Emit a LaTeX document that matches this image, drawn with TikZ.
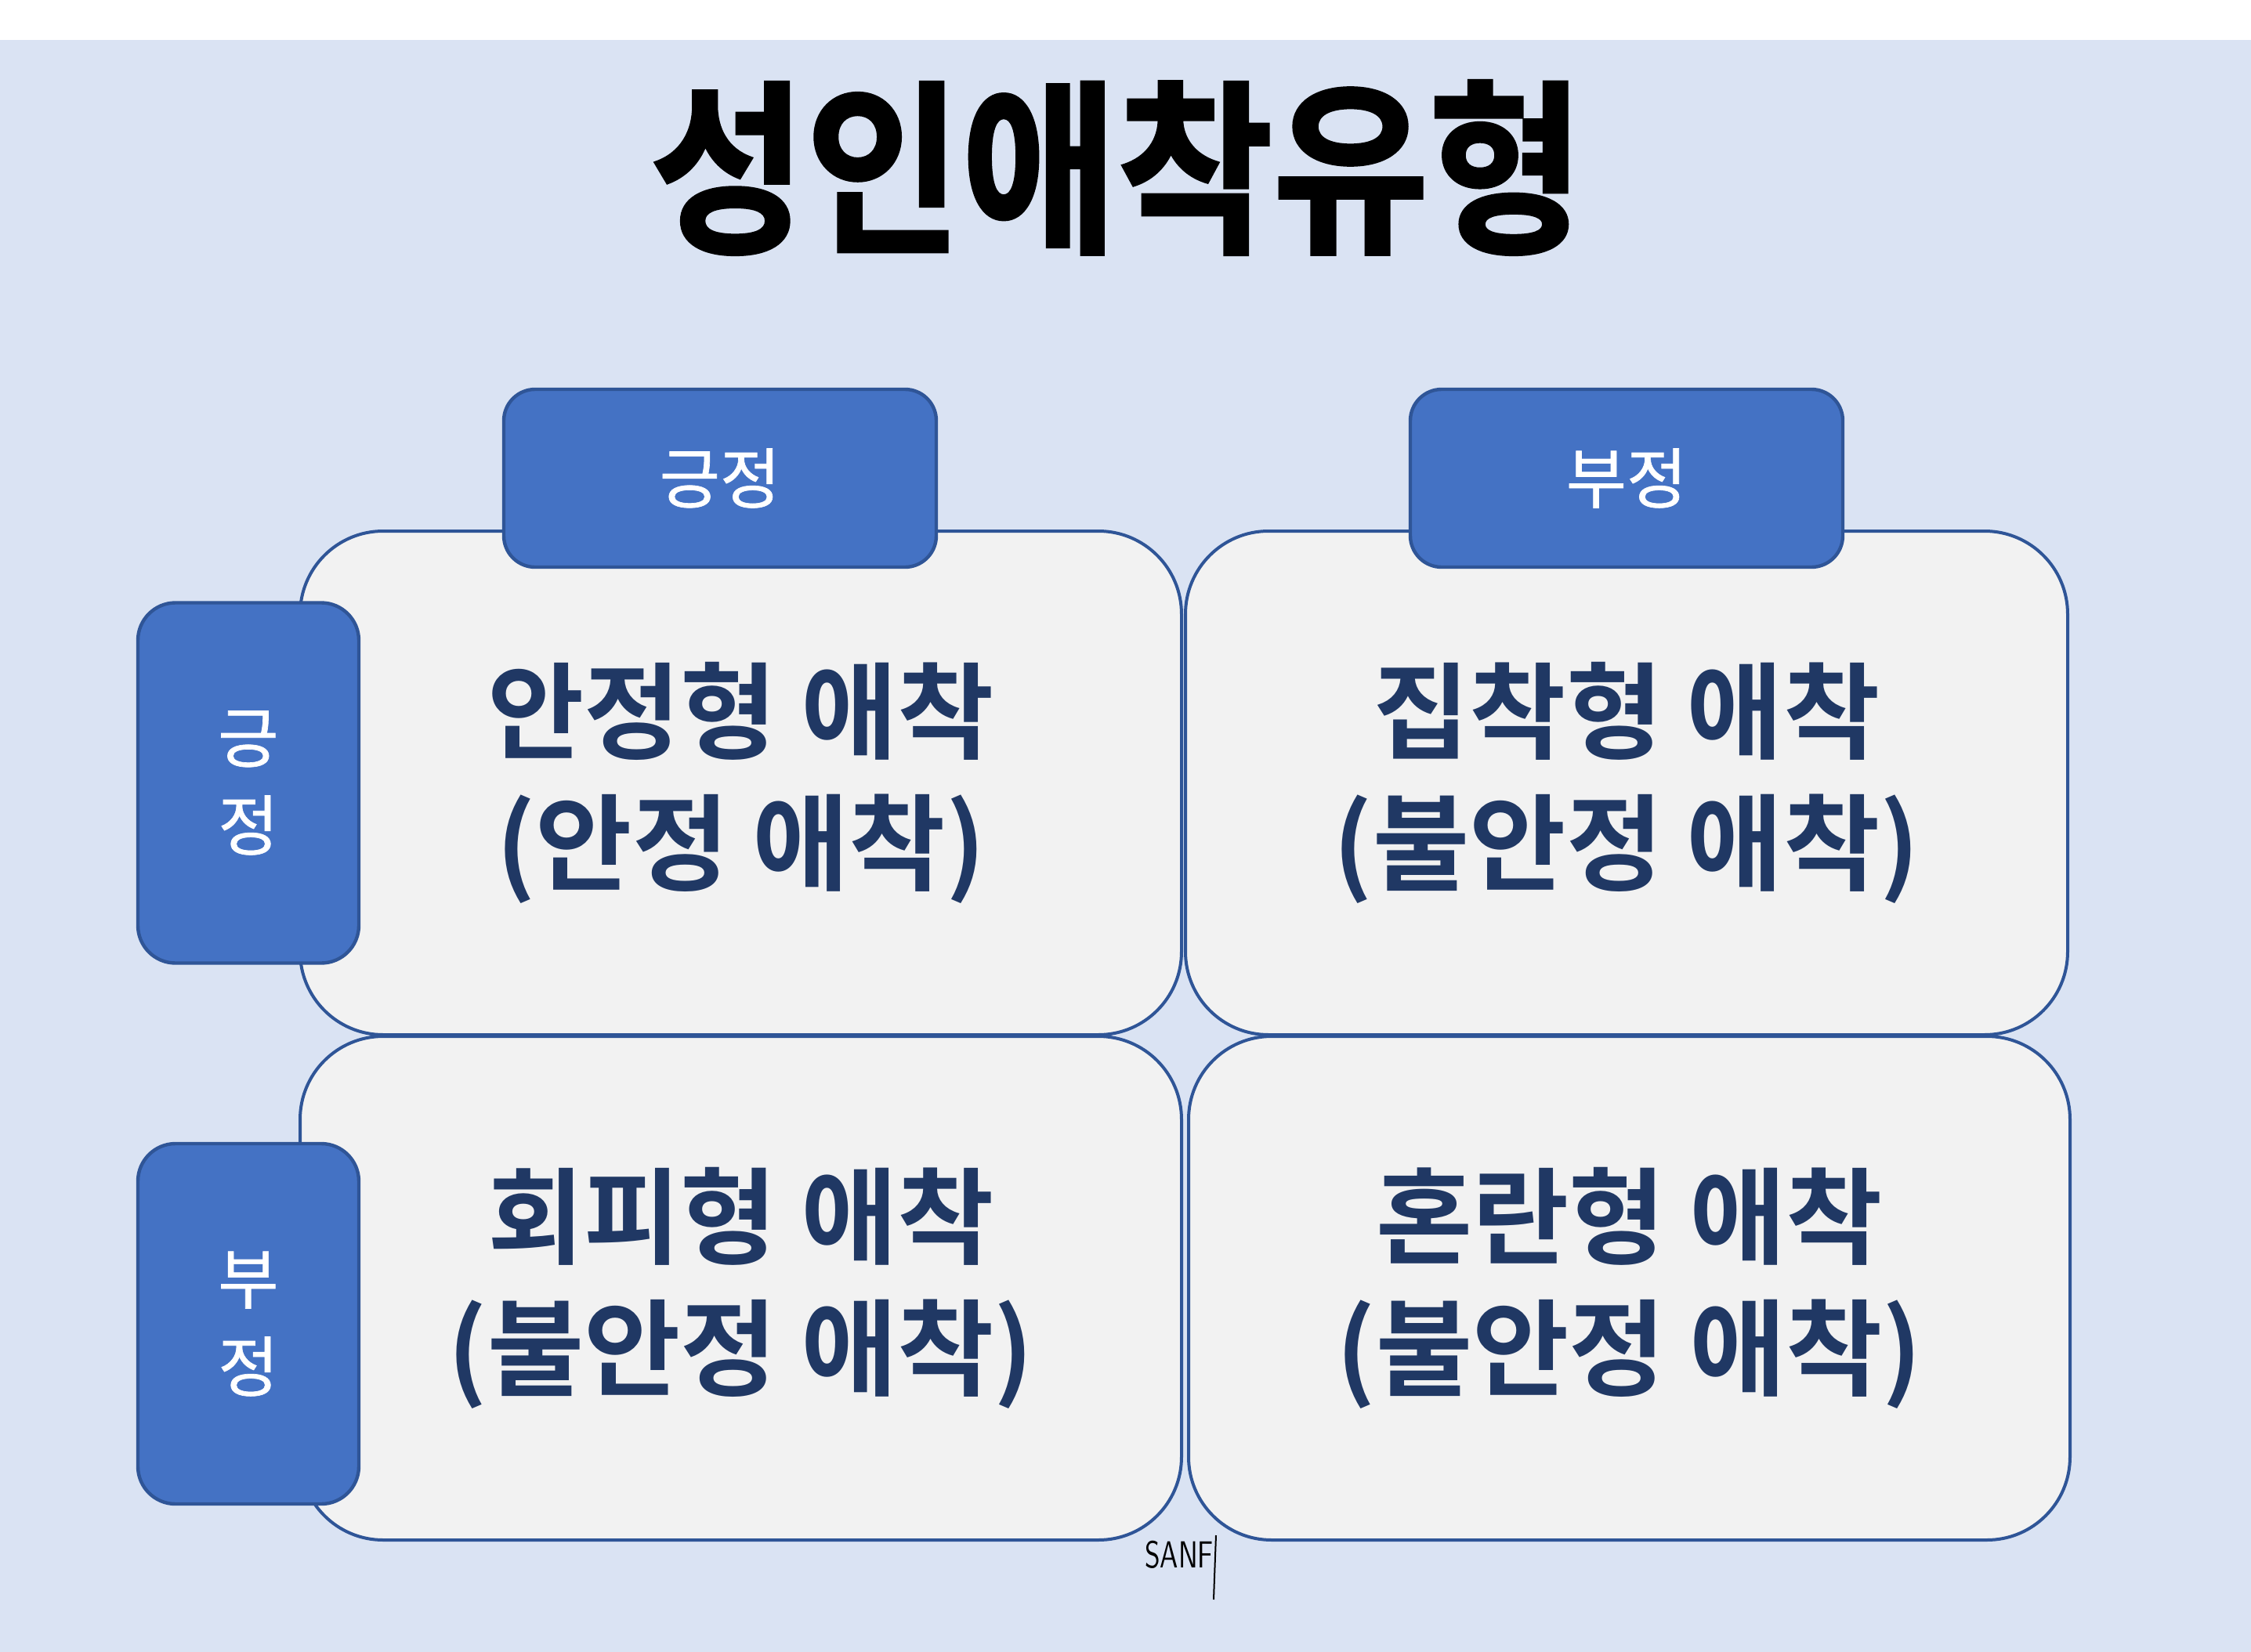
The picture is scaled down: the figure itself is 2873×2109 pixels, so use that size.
\documentclass[tikz,border=0pt]{standalone}
\usepackage{fontspec}
\setmainfont{Noto Sans CJK KR}
\newfontfamily\krfont[FakeBold=0.8]{Noto Sans CJK KR}
\newfontfamily\krheavy[FakeBold=1.8]{Noto Sans CJK KR Bold}
\newfontfamily\krbold{Noto Sans CJK KR Bold}
\definecolor{bgblue}{HTML}{DAE3F3}
\definecolor{boxfill}{HTML}{F2F2F2}
\definecolor{edge}{HTML}{2F5597}
\definecolor{tabfill}{HTML}{4472C4}
\definecolor{navy}{HTML}{203864}
\tikzset{
  quad/.style={draw=edge, line width=1pt, fill=boxfill, rounded corners=26.5pt,
    inner sep=0pt, outer sep=0pt, align=center, text=navy,
    font=\krbold\fontsize{33.5}{42}\selectfont},
  tabbox/.style={draw=edge, line width=1.1pt, fill=tabfill, inner sep=0pt, outer sep=0pt,
    align=center, text=white, font=\krfont\fontsize{21}{28}\selectfont},
  toptab/.style={tabbox, rounded corners=10pt, minimum width=138pt, minimum height=56.75pt},
  sidetab/.style={tabbox, rounded corners=12pt, minimum width=70.5pt, minimum height=115pt},
}
\begin{document}
\begin{tikzpicture}[x=0.25pt, y=-0.25pt]
\fill[white] (0,0) rectangle (2873,2109);
\fill[bgblue] (0,51) rectangle (2873,2109);
\useasboundingbox (0,0) rectangle (2873,2109);

\node[inner sep=0pt, font=\krheavy\fontsize{54}{54}\selectfont, yscale=1.1, transform shape] (title) at (1426,214) {성인애착유형};

\node[quad, minimum width=281.25pt, minimum height=160.75pt] (b1) at (945.5,999.5) {안정형 애착\\(안정 애착)};
\node[quad, minimum width=281.5pt, minimum height=160.75pt] (b2) at (2076,999.5) {집착형 애착\\(불안정 애착)};
\node[quad, minimum width=281.25pt, minimum height=160.75pt] (b3) at (945.5,1644.5) {회피형 애착\\(불안정 애착)};
\node[quad, minimum width=281.25pt, minimum height=160.75pt] (b4) at (2079.5,1644.5) {혼란형 애착\\(불안정 애착)};

\node[toptab] (t1) at (919,610.5) {긍정};
\node[toptab] (t2) at (2076,610.5) {부정};
\node[sidetab] (l1) at (317,999.5) {긍\\정};
\node[sidetab] (l2) at (317,1690) {부\\정};

\node[inner sep=0pt, font=\sffamily\fontsize{12}{12}\selectfont, xscale=0.75, transform shape] (sig) at (1505,1985) {SANF};
\coordinate (sigtop) at (1552,1960);
\coordinate (sigbot) at (1549,2042);
\draw[line width=0.5pt] (sigtop) -- (sigbot);
\end{tikzpicture}
\end{document}
